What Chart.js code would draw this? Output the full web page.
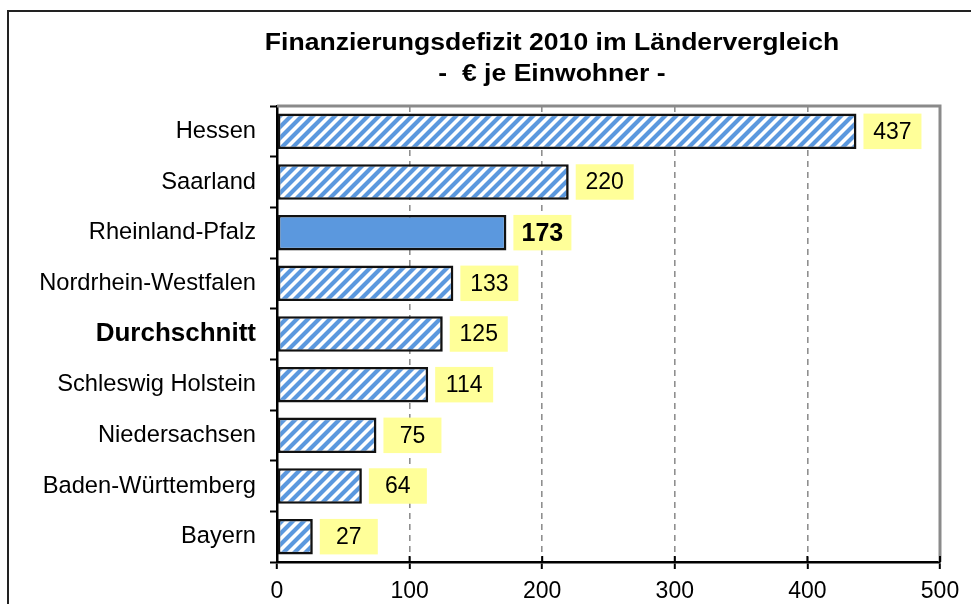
<!DOCTYPE html>
<html>
<head>
<meta charset="utf-8">
<script src="https://cdn.jsdelivr.net/npm/chart.js@4/dist/chart.umd.min.js"></script>
<style>
html,body{margin:0;padding:0;background:#fff;overflow:hidden;}
#wrap{width:971px;height:604px;position:relative;}
</style>
</head>
<body>
<div id="wrap"><canvas id="c" width="971" height="604"></canvas></div>
<script>
const titleLines = ['Finanzierungsdefizit 2010 im Ländervergleich', '-  € je Einwohner -'];
const categories = ['Hessen','Saarland','Rheinland-Pfalz','Nordrhein-Westfalen','Durchschnitt','Schleswig Holstein','Niedersachsen','Baden-Württemberg','Bayern'];
const values = [437, 220, 173, 133, 125, 114, 75, 64, 27];
const highlightCategory = 'Rheinland-Pfalz';
const boldCategory = 'Durchschnitt';
const xTicks = [0, 100, 200, 300, 400, 500];

const FONT = '"Liberation Sans", Arial, Helvetica, sans-serif';
const BLUE = '#5B98DE';

function makeHatch() {
  const p = 11, n = 4, s = p * n;
  const c = document.createElement('canvas');
  c.width = s; c.height = s;
  const g = c.getContext('2d');
  g.fillStyle = '#fff';
  g.fillRect(0, 0, s, s);
  g.strokeStyle = BLUE;
  g.lineWidth = 4.2;
  g.lineCap = 'square';
  g.beginPath();
  for (let k = -n - 1; k <= n + 1; k++) {
    g.moveTo(k * p - p, s + p);
    g.lineTo(k * p + s + p, -p);
  }
  g.stroke();
  return document.getElementById('c').getContext('2d').createPattern(c, 'repeat');
}
const hatch = makeHatch();

const framePlugin = {
  id: 'frame',
  beforeDraw(chart) {
    const ctx = chart.ctx;
    ctx.save();
    ctx.fillStyle = '#fff';
    ctx.fillRect(0, 0, chart.width, chart.height);
    ctx.strokeStyle = '#222';
    ctx.lineWidth = 2;
    ctx.beginPath();
    ctx.moveTo(8, chart.height + 5);
    ctx.lineTo(8, 11);
    ctx.lineTo(chart.width + 5, 11);
    ctx.stroke();
    ctx.fillStyle = '#000';
    ctx.font = 'bold 23px ' + FONT;
    ctx.textAlign = 'center';
    ctx.textBaseline = 'alphabetic';
    const sx = 1.155;
    ctx.save();
    ctx.translate(552, 50);
    ctx.scale(sx, 1);
    ctx.fillText(titleLines[0], 0, 0);
    ctx.restore();
    ctx.save();
    ctx.translate(552, 81);
    ctx.scale(sx, 1);
    ctx.fillText(titleLines[1], 0, 0);
    ctx.restore();
    ctx.restore();
  },
  beforeDatasetsDraw(chart) {
    const ctx = chart.ctx;
    const a = chart.chartArea;
    ctx.save();
    ctx.strokeStyle = '#8a8a8a';
    ctx.lineWidth = 3;
    ctx.beginPath();
    ctx.moveTo(a.left, a.top);
    ctx.lineTo(a.right, a.top);
    ctx.lineTo(a.right, a.bottom);
    ctx.stroke();
    ctx.restore();
  },
  afterDatasetsDraw(chart) {
    const ctx = chart.ctx;
    const meta = chart.getDatasetMeta(0);
    ctx.save();
    meta.data.forEach((bar, i) => {
      const h = bar.height;
      const x0 = bar.x + 7;
      const w = 58;
      ctx.fillStyle = '#FFFF99';
      ctx.fillRect(x0, bar.y - h / 2, w, h);
      ctx.fillStyle = '#000';
      const isHi = categories[i] === highlightCategory;
      ctx.font = (isHi ? 'bold 25px ' : '23px ') + FONT;
      ctx.textAlign = 'center';
      ctx.textBaseline = 'middle';
      ctx.fillText(String(values[i]), x0 + w / 2, bar.y + 1);
    });
    const xs = chart.scales.x;
    const a = chart.chartArea;
    ctx.strokeStyle = '#000';
    ctx.lineWidth = 2;
    ctx.beginPath();
    xTicks.forEach(v => {
      const px = xs.getPixelForValue(v);
      ctx.moveTo(px, a.bottom);
      ctx.lineTo(px, a.bottom - 6);
    });
    ctx.stroke();
    ctx.restore();
  }
};

new Chart(document.getElementById('c'), {
  type: 'bar',
  data: {
    labels: categories,
    datasets: [{
      data: values,
      backgroundColor: categories.map(c => c === highlightCategory ? BLUE : hatch),
      borderColor: '#111',
      borderWidth: 2.6,
      borderSkipped: false,
      barPercentage: 0.7,
      categoryPercentage: 1.0
    }]
  },
  options: {
    indexAxis: 'y',
    responsive: false,
    animation: false,
    devicePixelRatio: 1,
    layout: { padding: { top: 106, right: 31, left: 0, bottom: 0 } },
    plugins: { legend: { display: false }, title: { display: false }, tooltip: { enabled: false } },
    scales: {
      x: {
        min: 0, max: 500,
        afterFit(s) { s.height = 42; },
        afterBuildTicks(s) { s.ticks = xTicks.map(v => ({ value: v })); },
        ticks: { color: '#000', font: { family: FONT, size: 23 }, padding: 9 },
        grid: {
          color: (ctx) => (ctx.tick && (ctx.tick.value === 0 || ctx.tick.value === 500)) ? 'rgba(0,0,0,0)' : '#8f8f8f',
          lineWidth: 1.6,
          tickColor: '#000',
          tickWidth: 2,
          tickLength: 7,
          drawTicks: true
        },
        border: { display: true, color: '#000', width: 2.5, dash: [6, 5] }
      },
      y: {
        afterFit(s) { s.width = 277; },
        ticks: {
          color: '#000',
          padding: 14,
          font: (ctx) => (ctx.tick && ctx.tick.label === boldCategory)
            ? { family: FONT, size: 26, weight: 'bold' }
            : { family: FONT, size: 23.7 }
        },
        grid: {
          offset: true,
          drawOnChartArea: false,
          drawTicks: true,
          tickLength: 7,
          tickColor: '#000',
          tickWidth: 2
        },
        border: { display: true, color: '#000', width: 2.5 }
      }
    }
  },
  plugins: [framePlugin]
});
</script>
</body>
</html>
